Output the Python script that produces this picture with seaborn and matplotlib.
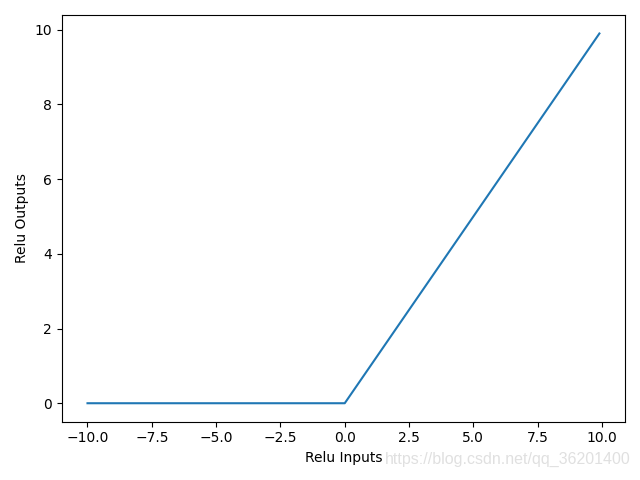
import numpy as np
import pandas as pd
import matplotlib
matplotlib.use("Agg")
import matplotlib.pyplot as plt
import seaborn as sns

# pontos da curva relu
relu_inputs = [-10.0, 0.0, 9.9]
relu_outputs = [0.0, 0.0, 9.9]

dados = pd.DataFrame({"Relu Inputs": relu_inputs, "Relu Outputs": relu_outputs})

sns.set_style("ticks")
plt.rcParams.update(matplotlib.rcParamsDefault)
plt.rcParams["font.family"] = ["DejaVu Sans"]

fig = plt.figure(figsize=(6.4, 4.8), dpi=100)
ax = sns.lineplot(x="Relu Inputs", y="Relu Outputs", data=dados, color="#1f77b4")
ax.set_xlabel("Relu Inputs")
ax.set_ylabel("Relu Outputs")
plt.tight_layout()
# marca d'agua
fig.text(0.986, 0.033, "https://blog.csdn.net/qq_36201400", color="#e0e0e0",
         fontsize=11.5, ha="right", family=["Liberation Sans"])
plt.savefig("out.png", dpi=100)
